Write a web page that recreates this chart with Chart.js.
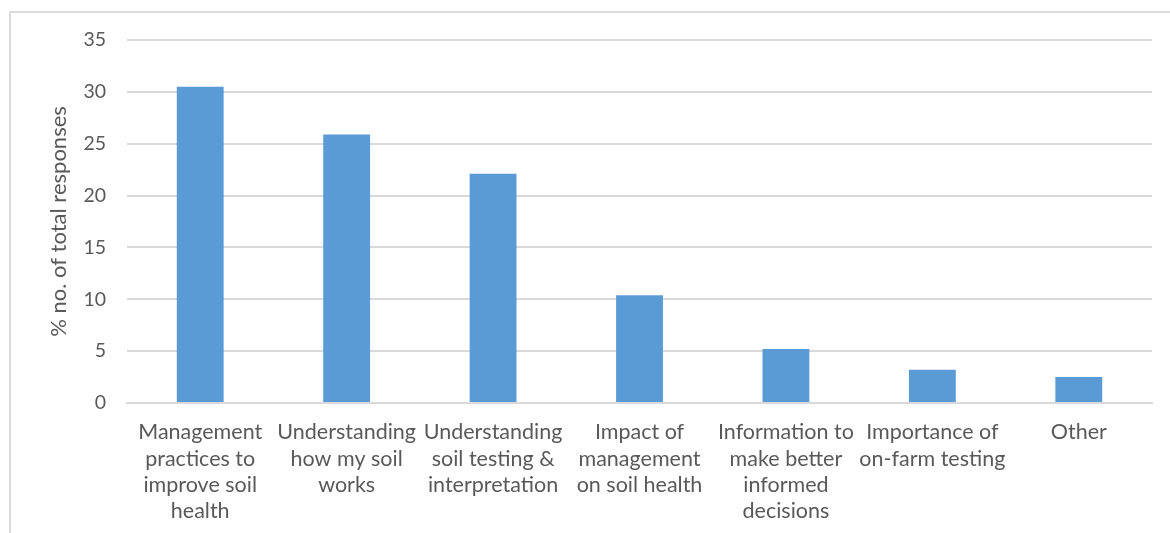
<!DOCTYPE html>
<html>
<head>
<meta charset="utf-8">
<script src="https://cdn.jsdelivr.net/npm/chart.js@4.4.1/dist/chart.umd.min.js"></script>
<style>
    html, body { margin: 0; padding: 0; background: #fff; overflow: hidden; }
    #frame {
        position: absolute;
        left: 9px;
        top: 11px;
        width: 1170px;
        height: 530px;
        border-left: 2px solid #dcdcdc;
        border-top: 2px solid #dcdcdc;
    }
    #wrap { position: relative; width: 1159px; height: 520px; }
</style>
</head>
<body>
<div id="frame"><div id="wrap"><canvas id="chart"></canvas></div></div>
<script>
    // Survey: topics growers want to learn more about
    const categories = [
        ['Management', 'practices to', 'improve soil', 'health'],
        ['Understanding', 'how my soil', 'works'],
        ['Understanding', 'soil testing &', 'interpretation'],
        ['Impact of', 'management', 'on soil health'],
        ['Information to', 'make better', 'informed', 'decisions'],
        ['Importance of', 'on-farm testing'],
        ['Other']
    ];
    const responses = [30.5, 25.9, 22.1, 10.4, 5.2, 3.2, 2.5];
    const yTicks = [0, 5, 10, 15, 20, 25, 30, 35];

    const textColor = '#595959';
    const gridColor = '#d9d9d9';
    const fontFamily = 'Lato, "Open Sans", sans-serif';

    new Chart(document.getElementById('chart'), {
        type: 'bar',
        data: {
            labels: categories,
            datasets: [{
                data: responses,
                backgroundColor: '#5b9bd5',
                borderWidth: 0,
                barPercentage: 0.64,
                categoryPercentage: 0.5
            }]
        },
        options: {
            responsive: true,
            maintainAspectRatio: false,
            animation: false,
            layout: { padding: { top: 27, right: 18, left: 0, bottom: 0 } },
            plugins: {
                legend: { display: false },
                tooltip: { enabled: false }
            },
            scales: {
                x: {
                    grid: { display: false, drawTicks: false },
                    border: { color: gridColor, width: 2 },
                    ticks: {
                        color: textColor,
                        font: { family: fontFamily, size: 21.5, lineHeight: 1.23 },
                        padding: 16,
                        maxRotation: 0,
                        autoSkip: false
                    },
                    afterFit: (scale) => {
                        scale.height = 130;
                        scale.paddingLeft = 0;
                        scale.paddingRight = 0;
                    }
                },
                y: {
                    min: 0,
                    max: 35,
                    afterBuildTicks: (scale) => {
                        scale.ticks = yTicks.map(v => ({ value: v }));
                    },
                    grid: { color: gridColor, lineWidth: 2, drawTicks: false },
                    border: { display: false },
                    ticks: {
                        color: textColor,
                        font: { family: fontFamily, size: 19.5 },
                        padding: 21
                    },
                    title: {
                        display: true,
                        text: '% no. of total responses',
                        color: textColor,
                        font: { family: fontFamily, size: 22 },
                        padding: { top: 35, bottom: 0 }
                    },
                    afterFit: (scale) => {
                        scale.width = 116;
                        scale.paddingTop = 0;
                        scale.paddingBottom = 0;
                    }
                }
            }
        }
    });
</script>
</body>
</html>
